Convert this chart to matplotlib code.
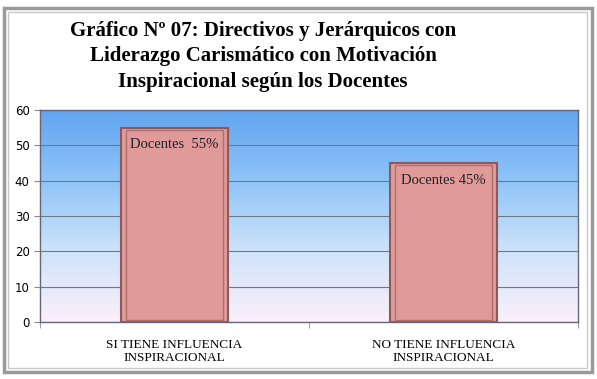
import numpy as np
import matplotlib.pyplot as plt
from matplotlib.patches import Rectangle
from matplotlib.colors import LinearSegmentedColormap

categorias = ["SI TIENE INFLUENCIA\nINSPIRACIONAL", "NO TIENE INFLUENCIA\nINSPIRACIONAL"]
valores = [55, 45]
etiquetas = ["Docentes  55%", "Docentes 45%"]
yticks = [0, 10, 20, 30, 40, 50, 60]

titulo = "Gráfico Nº 07: Directivos y Jerárquicos con\nLiderazgo Carismático con Motivación\nInspiracional según los Docentes"

fig = plt.figure(figsize=(5.97, 3.79), dpi=100)
fig.patch.set_facecolor("white")

# marco doble
fig.add_artist(Rectangle((0.006, 0.018), 0.986, 0.96, transform=fig.transFigure,
                         fill=False, edgecolor="#9a9a9a", linewidth=2.5))
fig.add_artist(Rectangle((0.014, 0.028), 0.970, 0.94, transform=fig.transFigure,
                         fill=False, edgecolor="#c8c8c8", linewidth=1.0))

ax = fig.add_axes([40/597, 1-322/379, 538/597, 212/379])

# fondo degradado
cmap = LinearSegmentedColormap.from_list("fondo", ["#fbf0fa", "#cfe3fb", "#8fc4f7", "#62a4ef"])
grad = np.linspace(0, 1, 256).reshape(-1, 1)
ax.imshow(grad, aspect="auto", cmap=cmap, origin="lower",
          extent=[-0.5, 1.5, 0, 60], zorder=0)

x = np.arange(len(categorias))
ax.bar(x, valores, width=0.4, color="#e09a9a", edgecolor="#8c5a5a", linewidth=1.5, zorder=3)
ax.bar(x, np.array(valores) - 1.2, width=0.36, bottom=0.6, color="none",
       edgecolor="#b07070", linewidth=1.0, zorder=4)

for xi, v, t in zip(x, valores, etiquetas):
    ax.text(xi, v - 3, t, ha="center", va="top", fontsize=10.5,
            family="Liberation Serif", color="#222222", zorder=5)

ax.set_xlim(-0.5, 1.5)
ax.set_ylim(0, 60)
ax.set_yticks(yticks)
ax.set_yticklabels([str(v) for v in yticks], fontsize=8.5, family="DejaVu Sans")
ax.set_xticks(x)
ax.set_xticklabels(categorias, fontsize=9.5, family="Liberation Serif")
ax.set_xticks([-0.5, 0.5, 1.5], minor=True)
ax.tick_params(axis="x", which="major", length=0, pad=12)
ax.tick_params(axis="x", which="minor", length=4, color="#888888")
ax.tick_params(axis="y", length=4, color="#888888")
ax.yaxis.grid(True, color="#6e7a88", linewidth=0.8, zorder=1)
ax.set_axisbelow(True)
for s in ax.spines.values():
    s.set_color("#666677")
    s.set_linewidth(1.0)

fig.text(263/597, 1-21/379, titulo, ha="center", va="top", fontsize=15,
         family="Liberation Serif", fontweight="bold", linespacing=1.35)

fig.savefig("out.png", dpi=100)
